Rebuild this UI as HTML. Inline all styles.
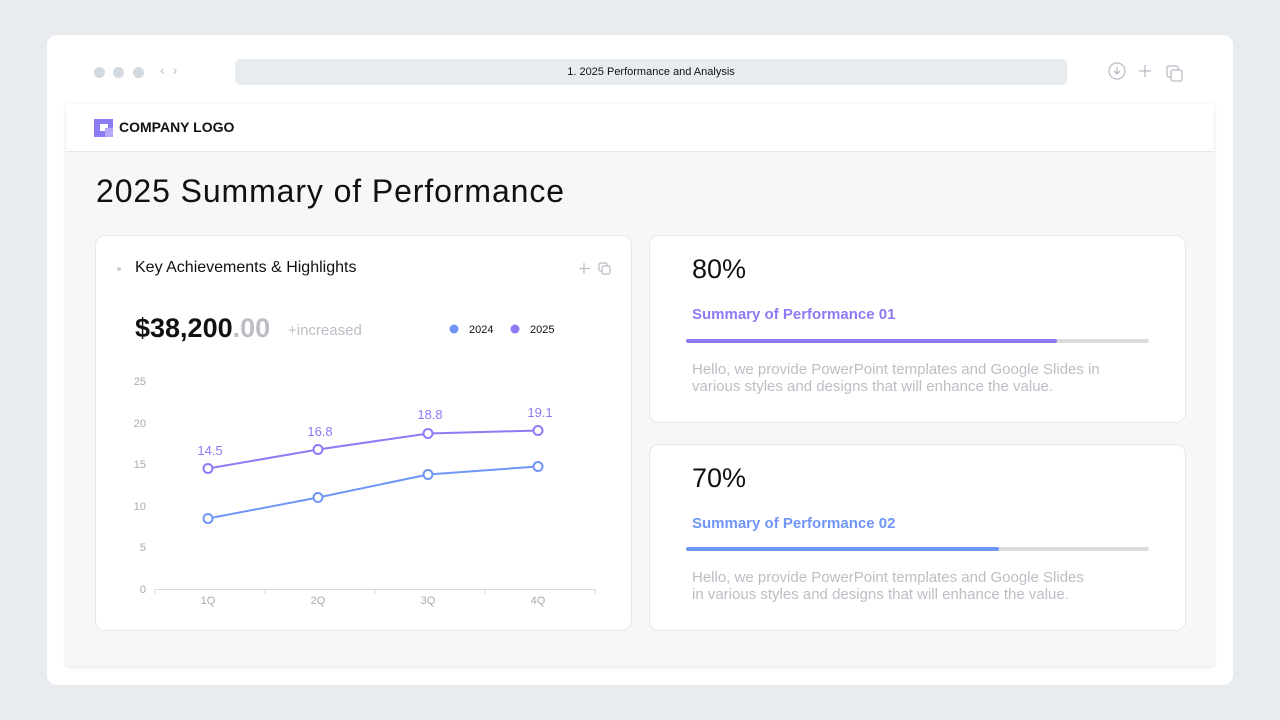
<!DOCTYPE html>
<html><head><meta charset="utf-8"><style>
*{margin:0;padding:0;box-sizing:border-box}
body{width:1280px;height:720px;background:#e9ecef;font-family:"Liberation Sans","DejaVu Sans",sans-serif;position:relative;overflow:hidden}
.win{position:absolute;left:47px;top:35px;width:1186px;height:650px;background:#fff;border-radius:10px}
.dot{position:absolute;top:67px;width:11px;height:11px;border-radius:50%;background:#d3d9e0}
.url{position:absolute;left:235px;top:59px;width:832px;height:26px;background:#e9ecef;border-radius:5px;font-size:11px;text-align:center;line-height:26px;color:#111}
.slide{position:absolute;left:66px;top:104px;width:1148px;height:562px;background:#f6f7f9;box-shadow:0 1px 4px rgba(0,0,0,.12);border-radius:3px}
.hdr{position:absolute;left:0;top:0;width:100%;height:48px;background:#fff;border-bottom:1px solid #e6e8eb}
.card{position:absolute;background:#fff;border:1px solid #e5e7ea;border-radius:10px}
.gray{color:#bbbec4}
.desc{position:absolute;left:692px;font-size:15px;line-height:17px;color:#bbbec4}
</style></head><body>
<div class="win"></div>
<div class="dot" style="left:94px"></div><div class="dot" style="left:113px"></div><div class="dot" style="left:133px"></div>
<div style="position:absolute;left:160px;top:62px;color:#b8bec6;font-size:14px">‹&nbsp;&nbsp;›</div>
<div class="url">1. 2025 Performance and Analysis</div>
<svg style="position:absolute;left:1108px;top:62px" width="80" height="20" fill="none" stroke="#b8bec6" stroke-width="1.3">
<circle cx="9" cy="9" r="8"/><path d="M9 5v7M6 9l3 3 3-3"/>
<path d="M37 3v12M31 9h12"/>
<rect x="59" y="4" width="11" height="11" rx="2"/><rect x="63" y="8" width="11" height="11" rx="2" fill="#fff"/>
</svg>
<div class="slide">
<div class="hdr">
<svg style="position:absolute;left:28px;top:15px" width="19" height="18"><rect x="0" y="0" width="19" height="18" fill="#8b7cf6"/><rect x="6" y="5" width="8" height="7" fill="#fff"/><rect x="11" y="9" width="8" height="9" fill="#b3a8fa"/></svg>
<div style="position:absolute;left:53px;top:15px;font-weight:bold;font-size:14px;color:#111">COMPANY LOGO</div>
</div>
<div style="position:absolute;left:30px;top:69px;font-size:32px;color:#111;font-weight:500;letter-spacing:0.9px">2025 Summary of Performance</div>
</div>
<div class="card" style="left:95px;top:235px;width:537px;height:396px"></div>
<div style="position:absolute;left:117px;top:267px;width:4px;height:4px;border-radius:50%;background:#ccc"></div>
<div style="position:absolute;left:135px;top:259px;font-size:16px;color:#111">Key Achievements &amp; Highlights</div>
<div style="position:absolute;left:135px;top:313px;font-size:27px;color:#111;font-weight:bold">$38,200<span class="gray">.00</span></div>
<div style="position:absolute;left:288px;top:322px;font-size:15px" class="gray">+increased</div>
<svg style="position:absolute;left:0;top:0" width="1280" height="720">
<g fill="none" stroke="#b8bec6" stroke-width="1.2">
<path d="M584 263v11M579 268.5h11"/>
<rect x="599" y="263" width="8" height="8" rx="1.5"/><rect x="602" y="266" width="8" height="8" rx="1.5" fill="#fff"/>
<path d="M1137 263v11M1132 268.5h11"/>
<rect x="1153" y="263" width="8" height="8" rx="1.5"/><rect x="1156" y="266" width="8" height="8" rx="1.5" fill="#fff"/>
<path d="M1137 472v11M1132 477.5h11"/>
<rect x="1153" y="472" width="8" height="8" rx="1.5"/><rect x="1156" y="475" width="8" height="8" rx="1.5" fill="#fff"/>
</g>
<circle cx="454" cy="329" r="4.5" fill="#6f96f7"/><text x="469" y="333" font-size="11" fill="#111" font-family="Liberation Sans">2024</text>
<circle cx="515" cy="329" r="4.5" fill="#8b7cf6"/><text x="530" y="333" font-size="11" fill="#111" font-family="Liberation Sans">2025</text>
<g font-size="11" fill="#aaa" font-family="Liberation Sans" text-anchor="end">
<text x="146" y="385">25</text><text x="146" y="427">20</text><text x="146" y="468">15</text><text x="146" y="510">10</text><text x="146" y="551">5</text><text x="146" y="593">0</text>
</g>
<g stroke="#d8d8d8"><path d="M155 589.5h440M155 589v5M265 589v5M375 589v5M485 589v5M595 589v5"/></g>
<g font-size="11" fill="#aaa" font-family="Liberation Sans" text-anchor="middle">
<text x="208" y="604">1Q</text><text x="318" y="604">2Q</text><text x="428" y="604">3Q</text><text x="538" y="604">4Q</text>
</g>
<polyline points="208,518.5 318,497.5 428,474.5 538,466.5" fill="none" stroke="#6f96f7" stroke-width="2"/>
<polyline points="208,468.5 318,449.5 428,433.5 538,430.5" fill="none" stroke="#8b7cf6" stroke-width="2"/>
<g fill="#fff" stroke-width="2">
<circle cx="208" cy="518.5" r="4.5" stroke="#6f96f7"/><circle cx="318" cy="497.5" r="4.5" stroke="#6f96f7"/><circle cx="428" cy="474.5" r="4.5" stroke="#6f96f7"/><circle cx="538" cy="466.5" r="4.5" stroke="#6f96f7"/>
<circle cx="208" cy="468.5" r="4.5" stroke="#8b7cf6"/><circle cx="318" cy="449.5" r="4.5" stroke="#8b7cf6"/><circle cx="428" cy="433.5" r="4.5" stroke="#8b7cf6"/><circle cx="538" cy="430.5" r="4.5" stroke="#8b7cf6"/>
</g>
<g font-size="13" fill="#8b7cf6" font-family="Liberation Sans" text-anchor="middle">
<text x="210" y="455">14.5</text><text x="320" y="436">16.8</text><text x="430" y="419">18.8</text><text x="540" y="417">19.1</text>
</g>
</svg>
<div class="card" style="left:649px;top:235px;width:537px;height:188px"></div>
<div style="position:absolute;left:692px;top:254px;font-size:27px;color:#111">80%</div>
<div style="position:absolute;left:692px;top:306px;font-size:15px;color:#8b7cf6;font-weight:bold">Summary of Performance 01</div>
<div style="position:absolute;left:686px;top:339px;width:463px;height:4px;background:#dcdcdc;border-radius:2px"><div style="width:371px;height:4px;background:#8b7cf6;border-radius:2px"></div></div>
<div class="desc" style="top:361px;width:430px">Hello, we provide PowerPoint templates and Google Slides in various styles and designs that will enhance the value.</div>
<div class="card" style="left:649px;top:444px;width:537px;height:187px"></div>
<div style="position:absolute;left:692px;top:463px;font-size:27px;color:#111">70%</div>
<div style="position:absolute;left:692px;top:515px;font-size:15px;color:#6f96f7;font-weight:bold">Summary of Performance 02</div>
<div style="position:absolute;left:686px;top:547px;width:463px;height:4px;background:#dcdcdc;border-radius:2px"><div style="width:313px;height:4px;background:#6f96f7;border-radius:2px"></div></div>
<div class="desc" style="top:569px;width:405px">Hello, we provide PowerPoint templates and Google Slides in various styles and designs that will enhance the value.</div>
</body></html>
